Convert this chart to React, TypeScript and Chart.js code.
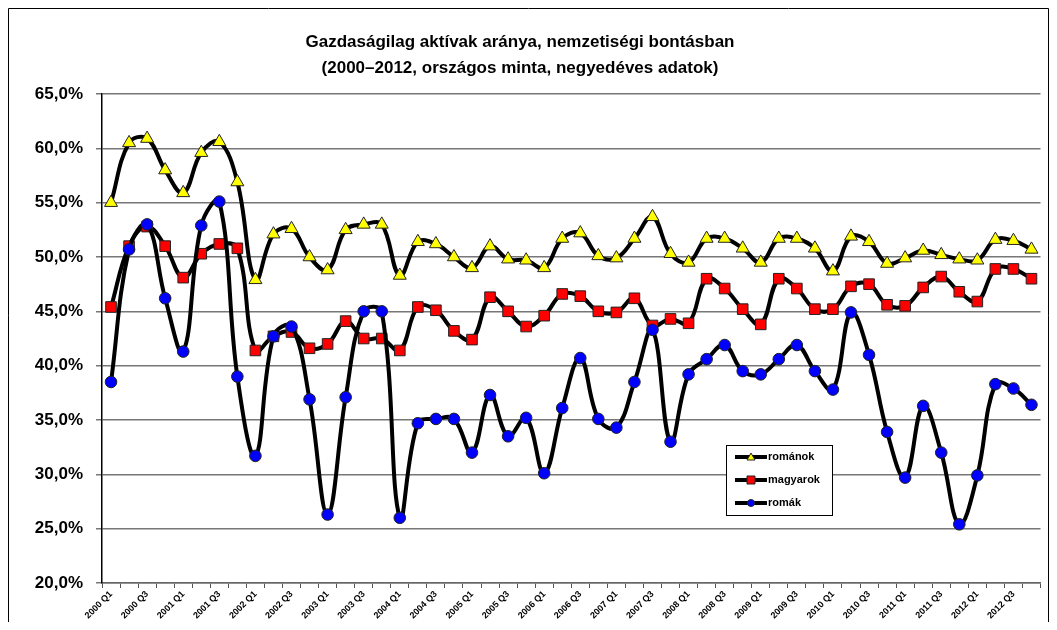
import React, { useEffect, useRef } from "react";
import { Chart, registerables } from "chart.js";

Chart.register(...registerables);

const FONT = '"Liberation Sans", Arial, sans-serif';

const titleLines = [
  "Gazdaságilag aktívak aránya, nemzetiségi bontásban",
  "(2000–2012, országos minta, negyedéves adatok)",
];

const quarters = [
  "2000 Q1", "2000 Q2", "2000 Q3", "2000 Q4",
  "2001 Q1", "2001 Q2", "2001 Q3", "2001 Q4",
  "2002 Q1", "2002 Q2", "2002 Q3", "2002 Q4",
  "2003 Q1", "2003 Q2", "2003 Q3", "2003 Q4",
  "2004 Q1", "2004 Q2", "2004 Q3", "2004 Q4",
  "2005 Q1", "2005 Q2", "2005 Q3", "2005 Q4",
  "2006 Q1", "2006 Q2", "2006 Q3", "2006 Q4",
  "2007 Q1", "2007 Q2", "2007 Q3", "2007 Q4",
  "2008 Q1", "2008 Q2", "2008 Q3", "2008 Q4",
  "2009 Q1", "2009 Q2", "2009 Q3", "2009 Q4",
  "2010 Q1", "2010 Q2", "2010 Q3", "2010 Q4",
  "2011 Q1", "2011 Q2", "2011 Q3", "2011 Q4",
  "2012 Q1", "2012 Q2", "2012 Q3", "2012 Q4",
];

const romanok = [
  55.0, 60.5, 60.9, 58.0, 55.9, 59.6, 60.6, 56.9,
  47.9, 52.1, 52.6, 50.0, 48.8, 52.5, 53.0, 53.0,
  48.3, 51.4, 51.2, 50.0, 49.0, 51.0, 49.8, 49.7,
  49.0, 51.7, 52.2, 50.1, 49.9, 51.7, 53.7, 50.3,
  49.5, 51.7, 51.7, 50.8, 49.5, 51.7, 51.7, 50.8,
  48.7, 51.9, 51.4, 49.4, 49.9, 50.6, 50.2, 49.8,
  49.7, 51.6, 51.5, 50.7,
];

const magyarok = [
  45.4, 51.0, 52.8, 51.0, 48.1, 50.3, 51.2, 50.8,
  41.4, 42.7, 43.1, 41.6, 42.0, 44.1, 42.5, 42.5,
  41.4, 45.4, 45.1, 43.2, 42.4, 46.3, 45.0, 43.6,
  44.6, 46.6, 46.4, 45.0, 44.9, 46.2, 43.7, 44.3,
  43.9, 48.0, 47.1, 45.2, 43.8, 48.0, 47.1, 45.2,
  45.2, 47.3, 47.5, 45.6, 45.5, 47.2, 48.2, 46.8,
  45.9, 48.9, 48.9, 48.0,
];

const romak = [
  38.5, 50.7, 53.0, 46.2, 41.3, 52.9, 55.1, 39.0,
  31.7, 42.7, 43.6, 36.9, 26.3, 37.1, 45.0, 45.0,
  26.0, 34.7, 35.1, 35.1, 32.0, 37.3, 33.5, 35.2,
  30.1, 36.1, 40.7, 35.1, 34.3, 38.5, 43.3, 33.0,
  39.2, 40.6, 41.9, 39.5, 39.2, 40.6, 41.9, 39.5,
  37.8, 44.9, 41.0, 33.9, 29.7, 36.3, 32.0, 25.4,
  29.9, 38.3, 37.9, 36.4,
];

const seriesNames = ["románok", "magyarok", "romák"];
const seriesFill = ["#FFFF00", "#FF0000", "#0000FF"];
const seriesShape = ["triangle", "rect", "circle"];

const yMin = 20;
const yMax = 65;
const yStep = 5;

function drawMarker(ctx: CanvasRenderingContext2D, shape: string, x: number, y: number, s: number, fill: string) {
  ctx.save();
  ctx.fillStyle = fill;
  ctx.strokeStyle = "#222";
  ctx.lineWidth = 1;
  ctx.beginPath();
  if (shape === "triangle") {
    ctx.moveTo(x, y - s);
    ctx.lineTo(x + s, y + s * 0.75);
    ctx.lineTo(x - s, y + s * 0.75);
    ctx.closePath();
  } else if (shape === "rect") {
    ctx.rect(x - s, y - s, 2 * s, 2 * s);
  } else {
    ctx.arc(x, y, s, 0, Math.PI * 2);
  }
  ctx.fill();
  ctx.stroke();
  ctx.restore();
}

export default function App() {
  const ref = useRef<HTMLCanvasElement>(null);

  useEffect(() => {
    const canvas = ref.current;
    if (!canvas) return;

    const framePlugin = {
      id: "frame",
      beforeDraw(chart: any) {
        const { ctx, width, height } = chart;
        ctx.save();
        ctx.fillStyle = "#fff";
        ctx.fillRect(0, 0, width, height);
        ctx.strokeStyle = "#000";
        ctx.lineWidth = 1;
        ctx.beginPath();
        ctx.moveTo(0.5, height);
        ctx.lineTo(0.5, 0.5);
        ctx.lineTo(width - 0.5, 0.5);
        ctx.lineTo(width - 0.5, height);
        ctx.stroke();
        ctx.restore();
      },
    };

    const titlePlugin = {
      id: "customTitle",
      afterDraw(chart: any) {
        const { ctx } = chart;
        ctx.save();
        ctx.fillStyle = "#000";
        ctx.font = `bold 17px ${FONT}`;
        ctx.textAlign = "center";
        ctx.textBaseline = "middle";
        ctx.fillText(titleLines[0], 512, 34);
        ctx.fillText(titleLines[1], 512, 60);
        ctx.restore();
      },
    };

    const legendPlugin = {
      id: "boxLegend",
      afterDraw(chart: any) {
        const { ctx } = chart;
        const bx = 718, by = 437, bw = 106, bh = 70;
        ctx.save();
        ctx.fillStyle = "#fff";
        ctx.fillRect(bx, by, bw, bh);
        ctx.strokeStyle = "#000";
        ctx.lineWidth = 1;
        ctx.strokeRect(bx + 0.5, by + 0.5, bw, bh);
        const rows = [by + 12, by + 35, by + 58];
        chart.data.datasets.forEach((ds: any, i: number) => {
          const ry = rows[i];
          ctx.strokeStyle = "#000";
          ctx.lineWidth = 4;
          ctx.beginPath();
          ctx.moveTo(bx + 9, ry);
          ctx.lineTo(bx + 41, ry);
          ctx.stroke();
          drawMarker(ctx, seriesShape[i], bx + 25, ry, i === 2 ? 3.5 : 4, seriesFill[i]);
          ctx.fillStyle = "#000";
          ctx.font = `bold 11px ${FONT}`;
          ctx.textAlign = "left";
          ctx.textBaseline = "middle";
          ctx.fillText(ds.label, bx + 42, ry);
        });
        ctx.restore();
      },
    };

    const values = [romanok, magyarok, romak];
    const radii = [7.5, 7.5, 5.8];

    const chart = new Chart(canvas, {
      type: "line",
      data: {
        labels: quarters,
        datasets: values.map((v, i) => ({
          label: seriesNames[i],
          data: v,
          borderColor: "#000",
          borderWidth: 4,
          tension: 0.4,
          fill: false,
          pointStyle: seriesShape[i] as any,
          pointRadius: radii[i],
          pointBackgroundColor: seriesFill[i],
          pointBorderColor: "#222",
          pointBorderWidth: 1,
          order: 3 - i,
        })),
      },
      options: {
        responsive: false,
        animation: false,
        events: [],
        layout: { padding: { top: 86, right: 7, left: 0, bottom: 0 } },
        plugins: {
          legend: { display: false },
          title: { display: false },
          tooltip: { enabled: false },
        },
        scales: {
          x: {
            type: "category",
            offset: true,
            grid: {
              offset: true,
              drawOnChartArea: false,
              drawTicks: true,
              tickLength: 5,
              color: "#555",
              lineWidth: 1,
            },
            border: { display: true, color: "#666", width: 1.5 },
            ticks: {
              autoSkip: false,
              maxRotation: 45,
              minRotation: 45,
              padding: 1,
              color: "#000",
              font: { family: FONT, size: 9, weight: "bold" },
              callback: (_v: any, i: number) => (i % 2 === 0 ? quarters[i] : ""),
            },
            afterFit: (s: any) => {
              s.height = 39;
            },
          },
          y: {
            min: yMin,
            max: yMax,
            grid: {
              color: "#777",
              lineWidth: 1.5,
              tickLength: 6,
              drawTicks: true,
            },
            border: { display: true, color: "#000", width: 1.5 },
            ticks: {
              stepSize: yStep,
              padding: 13,
              color: "#000",
              font: { family: FONT, size: 17, weight: "bold" },
              callback: (v: any) => Number(v).toFixed(1).replace(".", ",") + "%",
            },
            afterFit: (s: any) => {
              s.width = 94;
            },
          },
        },
      },
      plugins: [framePlugin, titlePlugin, legendPlugin],
    });

    return () => chart.destroy();
  }, []);

  return (
    <div style={{ width: 1041, height: 614 }}>
      <canvas ref={ref} width={1041} height={614} style={{ display: "block" }} />
    </div>
  );
}
